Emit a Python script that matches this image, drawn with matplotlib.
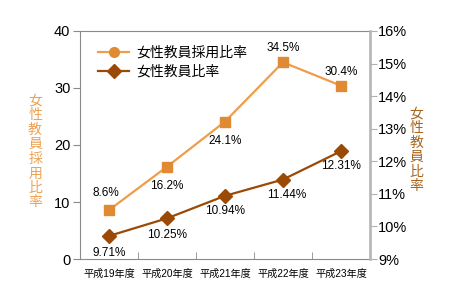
import matplotlib.pyplot as plt
from matplotlib.lines import Line2D

plt.rcParams['font.family'] = ['Liberation Sans', 'Noto Sans CJK JP', 'DejaVu Sans']

years = ["平成19年度", "平成20年度", "平成21年度", "平成22年度", "平成23年度"]
hire_ratio = [8.6, 16.2, 24.1, 34.5, 30.4]
teacher_ratio = [9.71, 10.25, 10.94, 11.44, 12.31]
hire_labels = ["8.6%", "16.2%", "24.1%", "34.5%", "30.4%"]
teacher_labels = ["9.71%", "10.25%", "10.94%", "11.44%", "12.31%"]

ORANGE_LINE = "#ee9d4a"
ORANGE_MARK = "#e08a33"
ORANGE_TEXT = "#eba255"
BROWN = "#9a4a05"
BROWN_TEXT = "#a8641c"
SPINE = "#8a8a8a"

fig = plt.figure(figsize=(4.5, 3.03), dpi=100)
ax = fig.add_axes([0.178, 0.145, 0.644, 0.753])
ax2 = ax.twinx()

x = list(range(len(years)))
ax.plot(x, hire_ratio, color=ORANGE_LINE, lw=1.6, marker="s", ms=7,
        mfc=ORANGE_MARK, mec=ORANGE_MARK, zorder=3)
ax2.plot(x, teacher_ratio, color=BROWN, lw=1.6, marker="D", ms=7,
         mfc=BROWN, mec=BROWN, zorder=3)

ax.set_xlim(-0.5, 4.5)
ax.set_ylim(0, 40)
ax2.set_ylim(9, 16)
ax.set_yticks([0, 10, 20, 30, 40])
ax2.set_yticks(range(9, 17))
ax2.set_yticklabels([f"{v}%" for v in range(9, 17)])

ax.set_xticks(x)
ax.set_xticklabels(years, fontsize=7.3)
ax.set_xticks([0.5, 1.5, 2.5, 3.5], minor=True)
ax.tick_params(axis="x", which="major", length=0, pad=7)
ax.tick_params(axis="x", which="minor", direction="in", length=5, color=SPINE)
ax.tick_params(axis="y", labelsize=10.5, length=5, color=SPINE, pad=2)
ax2.tick_params(axis="y", labelsize=10.5, length=5, color="#b0b0b0", pad=1)

for sp in ["left", "top", "bottom"]:
    ax.spines[sp].set_color(SPINE)
ax2.spines["right"].set_color("#b5b5b5")
ax2.spines["right"].set_linewidth(1.8)
for sp in ["left", "top", "bottom"]:
    ax2.spines[sp].set_visible(False)

hire_offsets = [(-2, 12), (0, -14), (0, -14), (0, 10), (0, 10)]
teacher_offsets = [(0, -12), (0, -12), (0, -11), (3, -11), (0, -11)]
for i, (v, t) in enumerate(zip(hire_ratio, hire_labels)):
    ax.annotate(t, (i, v), xytext=hire_offsets[i], textcoords="offset points",
                ha="center", va="center", fontsize=8.5)
for i, (v, t) in enumerate(zip(teacher_ratio, teacher_labels)):
    ax2.annotate(t, (i, v), xytext=teacher_offsets[i], textcoords="offset points",
                 ha="center", va="center", fontsize=8.5)

handles = [
    Line2D([], [], color=ORANGE_LINE, lw=1.6, marker="o", ms=7, mfc=ORANGE_MARK, mec=ORANGE_MARK),
    Line2D([], [], color=BROWN, lw=1.6, marker="D", ms=7, mfc=BROWN, mec=BROWN),
]
ax.legend(handles, ["女性教員採用比率", "女性教員比率"], loc="upper left",
          bbox_to_anchor=(0.02, 0.99), frameon=False, fontsize=10,
          handlelength=2.2, handletextpad=0.5, labelspacing=0.35)

fig.text(0.078, 0.5, "\n".join("女性教員採用比率"), color=ORANGE_TEXT, fontsize=10,
         ha="center", va="center", linespacing=1.05)
fig.text(0.925, 0.505, "\n".join("女性教員比率"), color=BROWN_TEXT, fontsize=10,
         ha="center", va="center", linespacing=1.05)

fig.savefig("out.png", dpi=100)
